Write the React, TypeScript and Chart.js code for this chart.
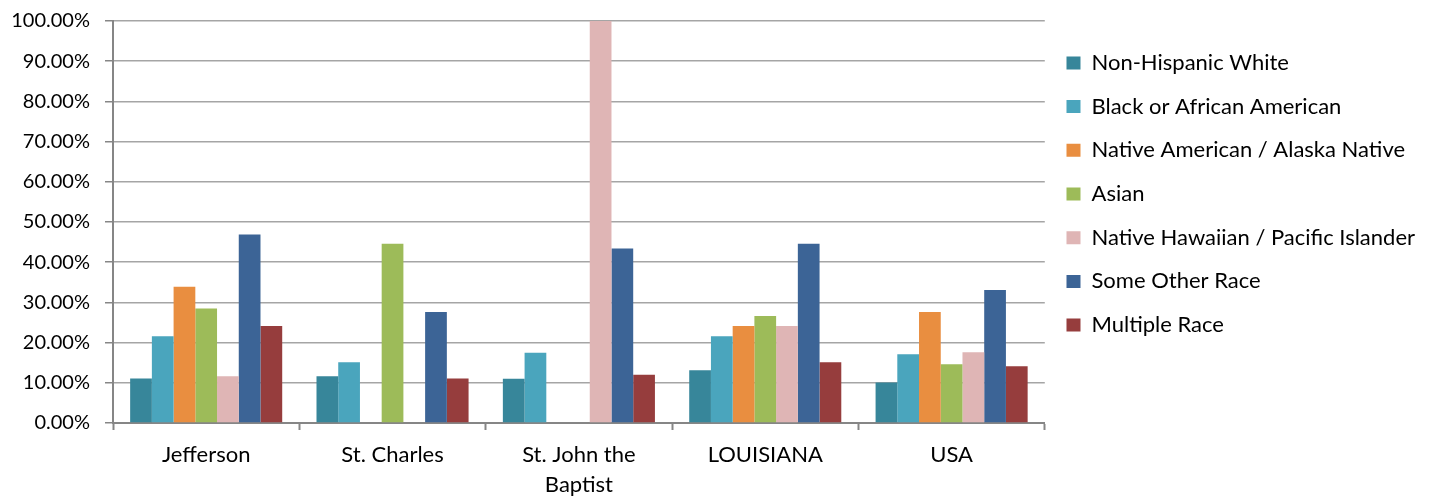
import React, { useEffect, useRef } from 'react';
import { Chart, registerables } from 'chart.js';

Chart.register(...registerables);

const categories: (string | string[])[] = ['Jefferson', 'St. Charles', ['St. John the', 'Baptist'], 'LOUISIANA', 'USA'];

const seriesNames = [
  'Non-Hispanic White',
  'Black or African American',
  'Native American / Alaska Native',
  'Asian',
  'Native Hawaiian / Pacific Islander',
  'Some Other Race',
  'Multiple Race',
];

const nonHispanicWhite = [11.1, 11.6, 11.0, 13.1, 10.1];
const blackAfricanAmerican = [21.6, 15.1, 17.5, 21.6, 17.1];
const nativeAmericanAlaska = [33.9, 0, 0, 24.1, 27.6];
const asian = [28.5, 44.6, 0, 26.6, 14.6];
const nativeHawaiianPacific = [11.6, 0, 100, 24.1, 17.6];
const someOtherRace = [46.9, 27.6, 43.4, 44.6, 33.1];
const multipleRace = [24.1, 11.1, 12.0, 15.1, 14.1];

const seriesValues = [
  nonHispanicWhite,
  blackAfricanAmerican,
  nativeAmericanAlaska,
  asian,
  nativeHawaiianPacific,
  someOtherRace,
  multipleRace,
];

const seriesColors = ['#37869A', '#4AA5BD', '#E98E40', '#9DBB59', '#DFB5B5', '#3C6496', '#963D3D'];

const yTickLabels = ['0.00%', '10.00%', '20.00%', '30.00%', '40.00%', '50.00%', '60.00%', '70.00%', '80.00%', '90.00%', '100.00%'];

const FONT = 'Lato, "Open Sans", sans-serif';

export default function App() {
  const canvasRef = useRef<HTMLCanvasElement | null>(null);

  useEffect(() => {
    if (!canvasRef.current) return;
    const chart = new Chart(canvasRef.current, {
      type: 'bar',
      data: {
        labels: categories,
        datasets: seriesNames.map((name, i) => ({
          label: name,
          data: seriesValues[i],
          backgroundColor: seriesColors[i],
          borderWidth: 0,
          categoryPercentage: 0.816,
          barPercentage: 1.0,
        })),
      },
      options: {
        animation: false,
        responsive: true,
        maintainAspectRatio: false,
        layout: { padding: { left: 0, right: 5, top: 15, bottom: 0 } },
        plugins: {
          tooltip: { enabled: false },
          legend: {
            position: 'right',
            align: 'start',
            maxWidth: 420,
            title: { display: true, text: '', font: { size: 1 }, padding: { top: 14, bottom: 0 } },
            labels: {
              boxWidth: 14,
              boxHeight: 13,
              padding: 21.7,
              color: '#000',
              font: { family: FONT, size: 22 },
            },
          },
        },
        scales: {
          x: {
            afterFit: (scale: any) => {
              scale.height = 77;
            },
            border: { display: true, color: '#868686', width: 2 },
            grid: {
              display: true,
              drawOnChartArea: false,
              drawTicks: true,
              tickLength: 7,
              tickColor: '#868686',
              tickWidth: 2,
              offset: true,
            },
            ticks: {
              color: '#000',
              padding: 10,
              maxRotation: 0,
              autoSkip: false,
              font: { family: FONT, size: 22, lineHeight: 30 / 22 },
            },
          },
          y: {
            min: 0,
            max: 100,
            afterFit: (scale: any) => {
              scale.width = 113;
            },
            border: { display: true, color: '#868686', width: 2 },
            grid: {
              color: '#a5a5a5',
              lineWidth: 1.5,
              drawTicks: true,
              tickLength: 8,
              tickColor: '#868686',
              tickWidth: 1.5,
            },
            ticks: {
              stepSize: 10,
              color: '#000',
              padding: 15,
              font: { family: FONT, size: 20, lineHeight: 0.6 },
              callback: (_v: any, i: number) => yTickLabels[i],
            },
          },
        },
      },
    });
    return () => chart.destroy();
  }, []);

  return (
    <div style={{ position: 'fixed', left: 0, top: 0, width: 1430, height: 500, background: '#fff' }}>
      <canvas ref={canvasRef} />
    </div>
  );
}
